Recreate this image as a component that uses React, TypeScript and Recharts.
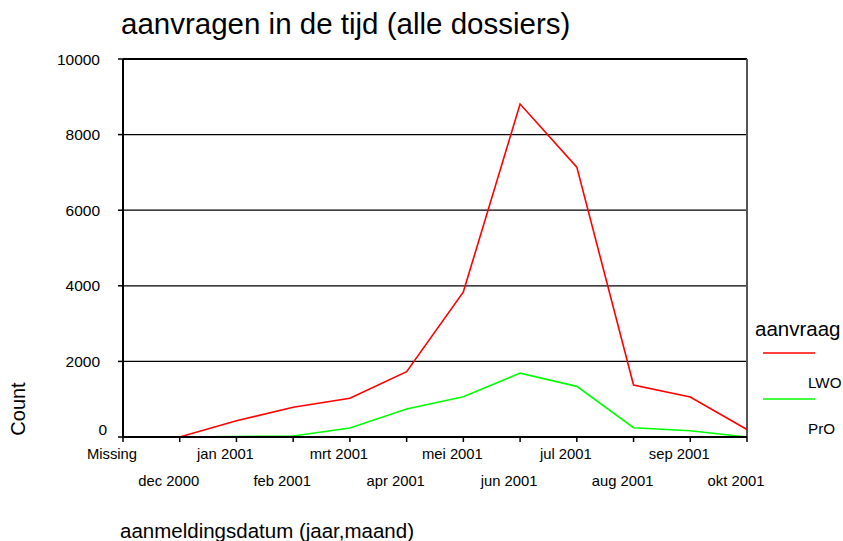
import React from 'react';
import { LineChart, Line, XAxis, YAxis, CartesianGrid, Legend, ReferenceLine } from 'recharts';

const categories = ['Missing', 'dec 2000', 'jan 2001', 'feb 2001', 'mrt 2001', 'apr 2001', 'mei 2001', 'jun 2001', 'jul 2001', 'aug 2001', 'sep 2001', 'okt 2001'];
const lwoValues = [0, 0, 430, 785, 1025, 1730, 3840, 8810, 7140, 1375, 1060, 200];
const proValues = [0, 0, 15, 25, 240, 740, 1065, 1690, 1340, 245, 165, 0];
const yTicks = [0, 2000, 4000, 6000, 8000, 10000];

const seriesNames = ['LWO', 'PrO'];
const seriesColors = ['#ff0000', '#00ff00'];

const data = categories.map((c, i) => ({ name: c, LWO: lwoValues[i], PrO: proValues[i] }));

const FONT = '"Liberation Sans", Arial, sans-serif';

const XTick = (props: any) => {
  const { x, y, payload, index } = props;
  const row = index % 2 === 0 ? 12 : 39;
  return (
    <text x={x - 11} y={y + row} textAnchor="middle" dominantBaseline="central" fontSize={14.8} fontFamily={FONT} fill="#000">
      {payload.value}
    </text>
  );
};

const YTick = (props: any) => {
  const { x, y, payload } = props;
  const isZero = payload.value === 0;
  return (
    <text x={x + (isZero ? 7 : 0)} y={y + (isZero ? -8 : 0)} textAnchor="end" dominantBaseline="central" fontSize={15.5} fontFamily={FONT} fill="#000">
      {payload.value}
    </text>
  );
};

const LegendContent = () => (
  <svg width={93} height={130} style={{ display: 'block', overflow: 'visible' }}>
    <text x={5} y={18} fontSize={20.5} fontFamily={FONT} dominantBaseline="central" fill="#000">aanvraag</text>
    {seriesNames.map((n, i) => (
      <g key={n}>
        <line x1={13} x2={65} y1={43 + i * 46} y2={43 + i * 46} stroke={seriesColors[i]} strokeWidth={1.6} />
        <text x={58} y={72 + i * 46} fontSize={15.2} fontFamily={FONT} dominantBaseline="central" fill="#000">{n}</text>
      </g>
    ))}
  </svg>
);

export default function App() {
  return (
    <div style={{ position: 'absolute', left: 0, top: 0, width: 843, height: 541, background: '#fff' }}>
      <div style={{ position: 'absolute', left: 121, top: 4, fontSize: 29.5, fontFamily: FONT, color: '#000', lineHeight: '40px', whiteSpace: 'nowrap' }}>
        aanvragen in de tijd (alle dossiers)
      </div>
      <LineChart width={843} height={541} data={data} margin={{ top: 59, right: 3, bottom: 0, left: 0 }}>
        <CartesianGrid horizontal={true} vertical={false} stroke="#000" strokeWidth={1.2} />
        <XAxis
          dataKey="name"
          interval={0}
          height={104}
          tickSize={5}
          tickMargin={0}
          axisLine={{ stroke: '#000', strokeWidth: 2 }}
          tickLine={{ stroke: '#000', strokeWidth: 1.5 }}
          tick={<XTick />}
          label={{
            content: () => (
              <text x={120} y={530} fontSize={20.5} fontFamily={FONT} dominantBaseline="central" fill="#000">
                aanmeldingsdatum (jaar,maand)
              </text>
            ),
          }}
        />
        <YAxis
          width={123}
          domain={[0, 10000]}
          ticks={yTicks}
          interval={0}
          tickSize={5}
          tickMargin={18}
          axisLine={{ stroke: '#000', strokeWidth: 2 }}
          tickLine={{ stroke: '#000', strokeWidth: 1.5 }}
          tick={<YTick />}
          label={{
            content: () => (
              <text x={18} y={409} transform="rotate(-90 18 409)" textAnchor="middle" dominantBaseline="central" fontSize={20} fontFamily={FONT} fill="#000">
                Count
              </text>
            ),
          }}
        />
        <ReferenceLine y={10000} stroke="#000" strokeWidth={2} />
        <ReferenceLine x="okt 2001" stroke="#555" strokeWidth={2} />
        <Line type="linear" dataKey="LWO" stroke={seriesColors[0]} strokeWidth={1.6} dot={false} isAnimationActive={false} />
        <Line type="linear" dataKey="PrO" stroke={seriesColors[1]} strokeWidth={1.6} dot={false} isAnimationActive={false} />
        <Legend
          layout="vertical"
          align="right"
          verticalAlign="middle"
          content={<LegendContent />}
          wrapperStyle={{ position: 'absolute', left: 750, top: 310, width: 93, height: 130 }}
        />
      </LineChart>
    </div>
  );
}
